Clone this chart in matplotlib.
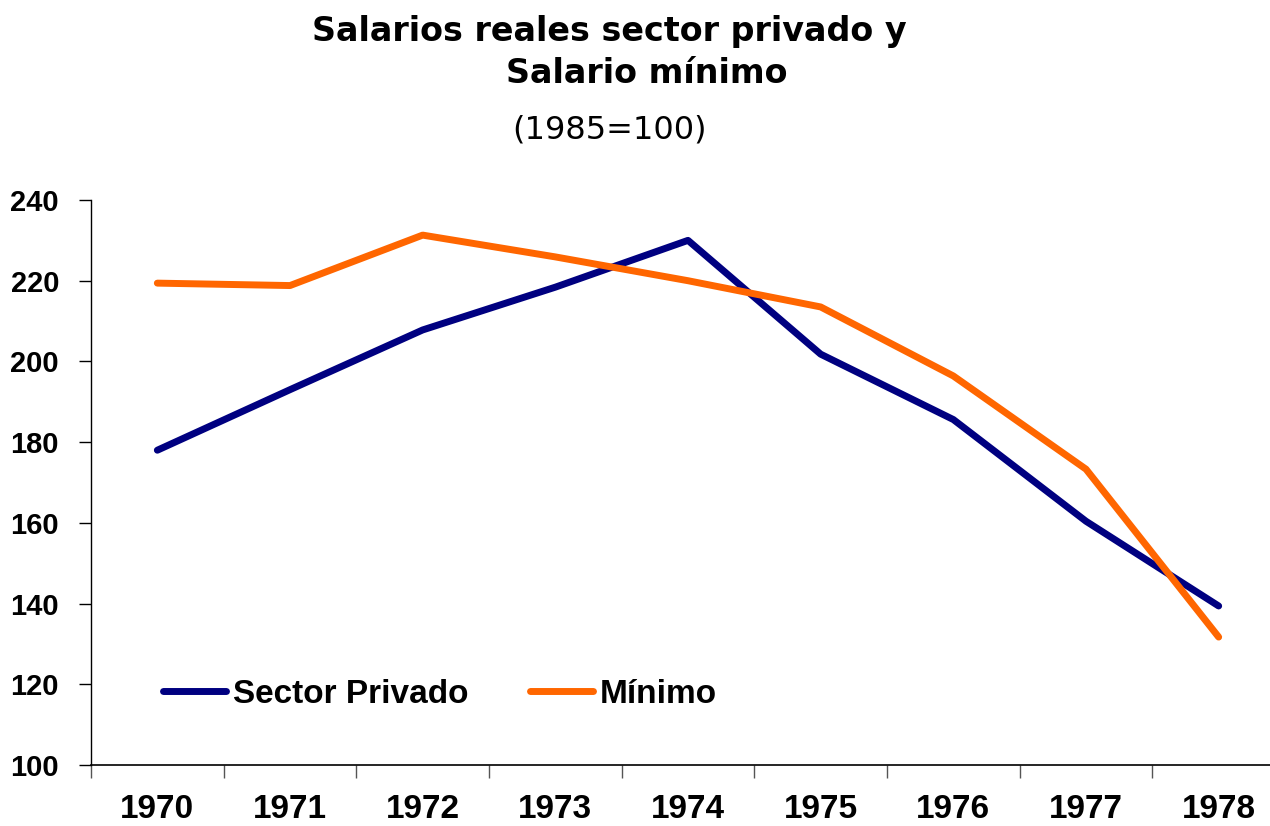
import matplotlib.pyplot as plt
import numpy as np

# data
years = ['1970', '1971', '1972', '1973', '1974', '1975', '1976', '1977', '1978']
sector_privado = [178.0, 193.0, 207.8, 218.4, 230.0, 201.8, 185.6, 160.4, 139.4]
minimo = [219.4, 218.8, 231.3, 225.9, 220.0, 213.5, 196.4, 173.3, 131.7]
y_ticks = [100, 120, 140, 160, 180, 200, 220, 240]

plt.rcParams['font.family'] = ['Liberation Sans', 'DejaVu Sans']

fig = plt.figure(figsize=(12.7, 8.26), dpi=100)
ax = fig.add_axes([91 / 1270, 61 / 826, 1194 / 1270, 565 / 826])

x = np.arange(len(years))
ax.plot(x, sector_privado, color='#000080', lw=5, solid_capstyle='round',
        label='Sector Privado')
ax.plot(x, minimo, color='#FF6600', lw=5, solid_capstyle='round',
        label='Mínimo')

ax.set_xlim(-0.5, len(years) - 0.5)
ax.set_ylim(100, 240)
ax.set_yticks(y_ticks)
ax.set_yticklabels([str(v) for v in y_ticks], fontsize=21, fontweight='bold')

# tick marks between categories, labels at the centres
ax.set_xticks(np.arange(len(years) + 1) - 0.5)
ax.set_xticklabels([])
ax.set_xticks(x, minor=True)
ax.set_xticklabels(years, minor=True, fontsize=24, fontweight='bold')
ax.tick_params(axis='x', which='major', length=9, width=1, color='#555555')
ax.tick_params(axis='x', which='minor', length=0, pad=21)
ax.tick_params(axis='y', length=9, width=1, pad=14)

for s in ['top', 'right']:
    ax.spines[s].set_visible(False)
ax.spines['left'].set_linewidth(1)
ax.spines['bottom'].set_linewidth(1.2)

leg = ax.legend(loc='lower left', bbox_to_anchor=(0.035, 0.045), ncol=2,
                frameon=False, prop={'size': 24, 'weight': 'bold'},
                handlelength=1.9, handletextpad=0.2, columnspacing=1.85)

fig.text(0.480, 0.962, 'Salarios reales sector privado y', ha='center',
         va='center', fontsize=24, fontweight='bold', family='DejaVu Sans')
fig.text(0.509, 0.911, 'Salario mínimo', ha='center', va='center',
         fontsize=24, fontweight='bold', family='DejaVu Sans')
fig.text(0.480, 0.843, '(1985=100)', ha='center', va='center', fontsize=23,
         family='DejaVu Sans')

fig.savefig('out.png', dpi=100)
